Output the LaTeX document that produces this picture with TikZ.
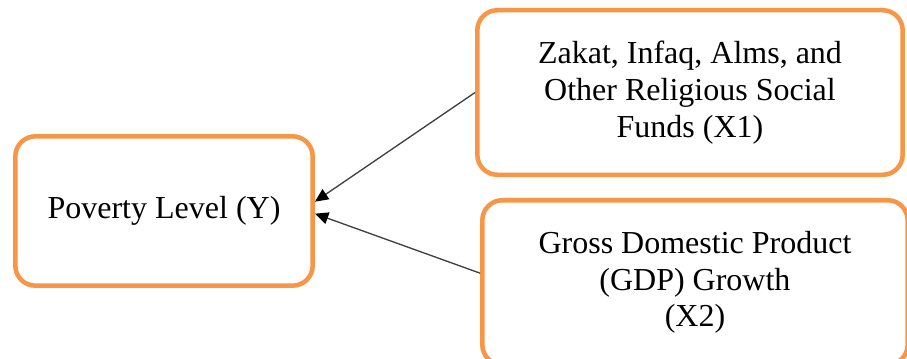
\documentclass[tikz,border=0pt]{standalone}
\usepackage{fontspec}
\setmainfont{Liberation Serif}
\usetikzlibrary{arrows.meta}
\definecolor{boxorange}{HTML}{F79646}

\begin{document}
\begin{tikzpicture}[x=0.75pt,y=0.75pt,
    varbox/.style={draw=boxorange,line width=3.4pt,rounded corners=15pt,align=center,
      font=\fontsize{24}{27.5}\selectfont,inner sep=0pt},
    effect/.style={draw=black!75,line width=1pt,-{Triangle[length=10pt,width=9pt,color=black]}}]
      \useasboundingbox (0,0) rectangle (907,358);

      % Y
      \node [varbox,minimum width=223pt,minimum height=112pt] (pov) at (164,147) {Poverty Level (Y)};

      % X1
      \node [varbox,minimum width=319pt,minimum height=123.4pt] (zis) at (690,265.5) {Zakat, Infaq, Alms, and\\Other Religious Social\\Funds (X1)};

      % X2
      \node [varbox,minimum width=319pt,minimum height=123.4pt] (gdp) at (695,75.5) {Gross Domestic Product\\(GDP) Growth\\(X2)};

      % arrows
      \draw [effect] (zis.west) -- ([yshift=7pt]pov.east);
      \draw [effect] ([yshift=7pt]gdp.west) -- ([yshift=-2pt]pov.east);
\end{tikzpicture}
\end{document}
